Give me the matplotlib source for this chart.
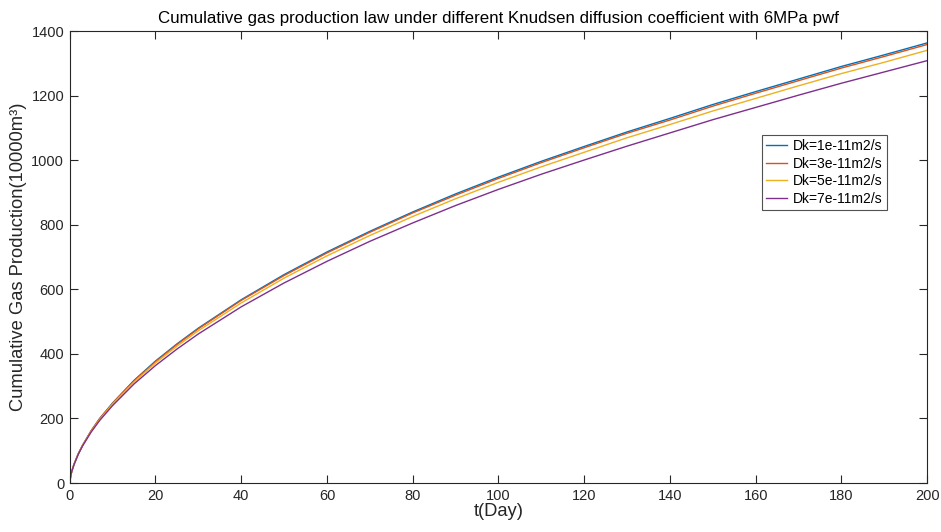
import numpy as np
import matplotlib
matplotlib.use("Agg")
import matplotlib.pyplot as plt

plt.rcParams['font.family'] = ['Liberation Sans', 'DejaVu Sans']

# time (day)
t = [0, 0.25, 0.5, 1, 2, 3, 5, 7, 10, 15, 20, 25, 30, 40, 50, 60, 70, 80, 90, 100,
     110, 120, 130, 140, 150, 160, 170, 180, 190, 200]

# cumulative gas production (10000 m3) for each Knudsen diffusion coefficient
dk1 = [0, 24, 37, 58, 91, 117, 162, 200, 248, 318, 378, 431, 480, 568, 646, 716, 780, 840, 896, 948,
       997, 1043, 1088, 1130, 1173, 1213, 1252, 1291, 1327, 1364]
dk3 = [0, 24, 37, 58, 91, 117, 162, 200, 247, 317, 376, 429, 478, 566, 643, 713, 777, 837, 892, 944,
       993, 1039, 1084, 1125, 1168, 1208, 1247, 1286, 1322, 1359]
dk5 = [0, 24, 37, 58, 90, 116, 160, 197, 245, 313, 372, 424, 472, 558, 635, 704, 767, 826, 881, 932,
       980, 1025, 1070, 1111, 1153, 1192, 1231, 1269, 1304, 1341]
dk7 = [0, 24, 37, 57, 89, 115, 158, 194, 240, 307, 364, 415, 462, 546, 620, 687, 749, 806, 860, 910,
       957, 1001, 1044, 1085, 1126, 1164, 1202, 1239, 1274, 1309]

labels = ['Dk=1e-11m2/s', 'Dk=3e-11m2/s', 'Dk=5e-11m2/s', 'Dk=7e-11m2/s']
colors = ['#0072BD', '#D95319', '#EDB120', '#7E2F8E']

fig = plt.figure(figsize=(9.41, 5.32), dpi=100)
ax = fig.add_axes([0.0741, 0.0921, 0.9112, 0.8491])

for y, lab, c in zip([dk1, dk3, dk5, dk7], labels, colors):
    ax.plot(t, y, color=c, lw=1.0, label=lab)

ax.set_xlim(0, 200)
ax.set_ylim(0, 1400)
ax.set_xticks(np.arange(0, 201, 20))
ax.set_yticks(np.arange(0, 1401, 200))
ax.tick_params(direction='in', length=6, width=0.8, top=True, right=True,
               labelsize=10.5, colors='#262626', pad=4)
for s in ax.spines.values():
    s.set_linewidth(0.8)
    s.set_color('#262626')

ax.set_xlabel('t(Day)', fontsize=13.2, color='#262626', labelpad=0)
ax.set_ylabel('Cumulative Gas Production(10000m³)', fontsize=13.2, color='#262626', labelpad=3)
ax.set_title('Cumulative gas production law under different Knudsen diffusion coefficient with 6MPa pwf',
             fontsize=12.2, color='black', pad=6)

leg = ax.legend(loc='upper left', bbox_to_anchor=(0.8077, 0.7704), borderaxespad=0,
                fontsize=10, frameon=True, fancybox=False, handlelength=1.5,
                handletextpad=0.4, borderpad=0.3, labelspacing=0.25)
leg.get_frame().set_edgecolor('#262626')
leg.get_frame().set_linewidth(0.8)

fig.savefig('out.png', dpi=100)
